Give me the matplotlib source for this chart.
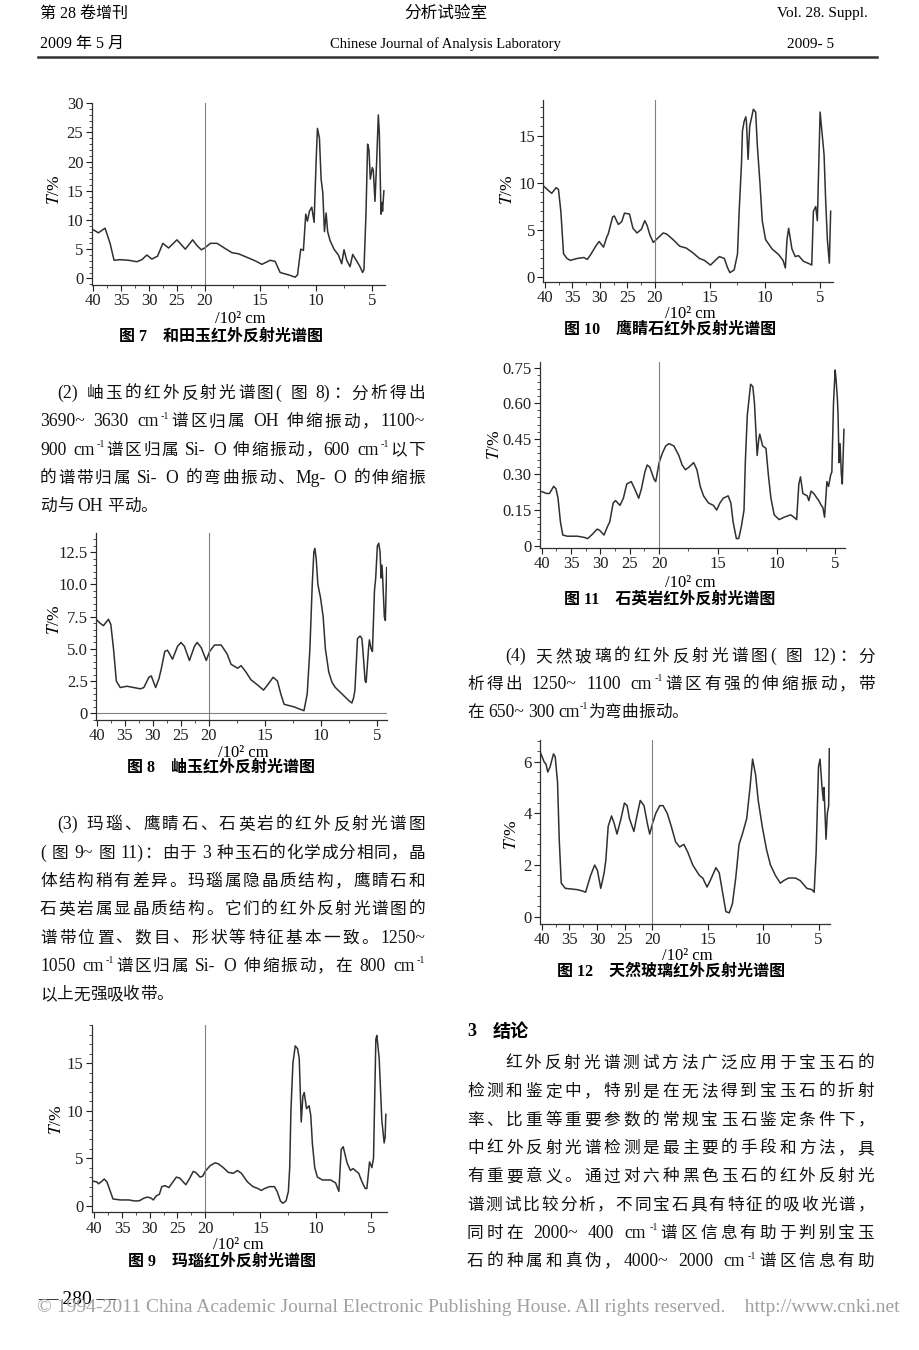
import numpy as np
import matplotlib
matplotlib.use('Agg')
import matplotlib.pyplot as plt
from matplotlib.lines import Line2D
from matplotlib.ticker import AutoMinorLocator, FixedLocator

plt.rcParams['font.family'] = ['Liberation Serif', 'Noto Sans CJK SC']
plt.rcParams['mathtext.fontset'] = 'stix'

W, H = 920, 1350

# wavenumber axis (10^2 cm^-1)
x_ticks = [40, 35, 30, 25, 20, 15, 10, 5]

# Fig 7 和田玉
w7 = [40.3, 39.1, 37.9, 37.0, 36.28, 35.2, 33.7, 32.19, 31.29, 30.39, 29.49, 28.47, 27.51,
      26.49, 24.98, 23.48, 22.16, 21.38, 20.6, 20.0, 19.49, 18.89, 18.15, 17.55, 16.95, 16.2,
      15.46, 14.86, 14.11, 13.67, 13.22, 12.47, 11.87, 11.66, 11.37, 11.13, 10.92, 10.77,
      10.59, 10.38, 10.17, 9.99, 9.87, 9.69, 9.54, 9.39, 9.24, 9.09, 8.95, 8.74, 8.38, 7.99,
      7.69, 7.48, 7.24, 6.94, 6.7, 6.35, 6.05, 5.81, 5.69, 5.51, 5.36, 5.24, 5.12, 4.94, 4.85,
      4.7, 4.55, 4.4, 4.31, 4.16, 4.07, 4.02, 3.9]
t7 = [8.5, 7.8, 8.6, 6.0, 3.1, 3.2, 3.1, 2.85, 3.2, 4.0, 3.3, 3.8, 6.0,
      5.2, 6.6, 5.0, 6.6, 5.6, 4.9, 5.2, 6.0, 6.0, 5.1, 4.4, 4.2, 3.6,
      3.0, 2.4, 3.1, 2.9, 1.0, 0.6, 0.2, 0.6, 5.0, 4.8, 11.0, 9.8,
      11.5, 12.2, 9.6, 20.0, 25.7, 24.0, 17.0, 14.7, 8.0, 11.2, 8.0, 6.5, 5.0, 4.0,
      2.5, 4.9, 3.1, 2.0, 4.1, 3.0, 2.0, 1.0, 1.5, 11.0, 23.0, 22.0, 17.0, 19.0, 18.5,
      13.2, 20.0, 28.0, 25.0, 11.0, 13.0, 11.5, 15.0]

# Fig 8 岫玉
w8 = [40.12, 39.4, 38.8, 37.9, 37.48, 37.0, 36.5, 35.8, 34.6, 33.4, 32.2, 31.6, 30.7, 30.27,
      29.5, 28.9, 28.47, 27.87, 27.39, 26.49, 25.59, 24.98, 24.38, 23.48, 22.58, 22.1, 21.38,
      20.48, 19.94, 19.5, 18.91, 18.38, 18.03, 17.44, 17.14, 16.7, 16.26, 15.67, 15.14, 14.78,
      14.28, 13.9, 13.6, 13.31, 12.43, 11.84, 11.54, 11.25, 11.01, 10.8, 10.66, 10.57, 10.45,
      10.3, 10.07, 9.83, 9.63, 9.33, 9.04, 8.74, 8.15, 7.56, 7.27, 7.12, 7.0, 6.77, 6.54, 6.38,
      6.3, 6.09, 6.0, 5.79, 5.71, 5.56, 5.44, 5.26, 5.15, 5.0, 4.88, 4.76, 4.67, 4.59, 4.53,
      4.38, 4.29, 4.17]
t8 = [7.3, 7.0, 6.8, 7.3, 6.9, 5.0, 2.5, 2.0, 2.1, 2.0, 1.9, 2.0, 2.8, 2.9,
      2.0, 2.7, 3.5, 4.8, 4.9, 4.2, 5.2, 5.5, 5.2, 4.1, 5.2, 5.5, 5.1,
      4.1, 4.8, 5.3, 5.3, 4.6, 3.8, 3.5, 3.7, 3.2, 2.6, 2.2, 1.8, 2.2,
      2.8, 2.5, 1.5, 0.7, 0.5, 0.3, 0.2, 1.5, 5.0, 10.0, 12.5, 12.8, 12.0,
      10.0, 9.0, 7.5, 5.0, 3.2, 2.4, 2.0, 1.5, 1.0, 0.8, 1.2, 1.8, 5.8, 6.0, 5.8,
      5.0, 2.5, 2.4, 5.0, 5.7, 5.0, 4.8, 9.5, 10.5, 13.0, 13.2, 12.5, 10.5, 11.5, 10.5,
      7.5, 7.2, 11.3]

# Fig 9 玛瑙
w9 = [40.49, 39.57, 39.27, 38.78, 38.23, 37.74, 37.13, 36.64, 35.29, 33.76, 32.84, 31.93,
      31.01, 30.4, 29.79, 29.36, 28.87, 28.26, 27.83, 27.22, 26.54, 25.81, 25.2, 24.59, 23.49,
      22.87, 22.14, 21.71, 20.92, 20.43, 20.0, 19.55, 19.11, 18.81, 18.36, 17.91, 17.46, 17.08,
      16.72, 16.18, 15.68, 15.23, 14.93, 14.63, 14.18, 13.74, 13.5, 13.2, 12.99, 12.69, 12.48,
      12.36, 12.25, 12.07, 11.86, 11.65, 11.5, 11.32, 11.17, 11.05, 10.84, 10.61, 10.46, 10.31,
      10.1, 9.86, 9.41, 8.67, 8.22, 7.92, 7.71, 7.53, 7.18, 6.88, 6.64, 6.13, 5.83, 5.54, 5.39,
      5.15, 4.94, 4.79, 4.58, 4.49, 4.28, 4.04, 3.83, 3.74, 3.68]
t9 = [2.6, 2.5, 2.3, 2.5, 2.8, 2.5, 1.5, 0.7, 0.6, 0.6, 0.5, 0.5,
      0.8, 0.9, 0.8, 0.6, 1.0, 1.2, 2.0, 2.1, 1.9, 2.5, 3.0, 2.9, 2.2,
      2.8, 3.6, 3.5, 3.0, 3.1, 3.6, 4.2, 4.5, 4.4, 4.0, 3.5, 3.4, 3.7,
      3.4, 2.5, 2.0, 1.8, 1.6, 1.8, 2.0, 2.0, 1.5, 0.5, 0.25, 0.5, 1.5,
      4.0, 10.0, 15.0, 16.8, 16.5, 15.5, 8.8, 11.5, 11.9, 10.2, 10.5, 9.5, 6.5,
      4.0, 3.0, 2.7, 2.7, 2.4, 1.5, 5.9, 6.2, 4.5, 3.7, 3.9, 3.4, 2.5, 1.8, 1.8,
      4.6, 4.0, 5.0, 17.5, 17.9, 15.5, 9.0, 6.6, 7.2, 9.6]

# Fig 10 鹰睛石
w10 = [40.31, 39.38, 38.77, 37.97, 37.54, 37.11, 36.62, 36.0, 35.38, 34.15, 32.92, 32.31,
       31.69, 30.77, 30.15, 29.35, 28.74, 28.49, 27.69, 27.38, 26.65, 26.03, 25.54, 24.62,
       24.0, 23.26, 22.46, 21.85, 21.42, 20.92, 20.31, 19.7, 19.25, 18.95, 18.35, 17.75,
       17.15, 16.55, 15.95, 15.5, 14.95, 14.6, 14.14, 13.69, 13.39, 13.18, 12.79, 12.49,
       12.34, 12.13, 12.04, 11.89, 11.74, 11.68, 11.53, 11.38, 11.05, 10.84, 10.69, 10.45,
       10.24, 9.94, 9.34, 8.74, 8.35, 8.14, 7.99, 7.84, 7.54, 7.24, 6.94, 6.49, 5.89, 5.74,
       5.59, 5.38, 5.23, 4.98, 4.86, 4.62, 4.47, 4.32, 4.14, 4.02]
t10 = [9.7, 9.2, 8.9, 9.5, 9.3, 7.0, 2.5, 2.0, 1.8, 2.0, 2.1, 1.9,
       2.4, 3.3, 3.8, 3.2, 4.3, 4.6, 6.4, 6.5, 5.6, 5.9, 6.8, 6.7,
       5.2, 4.7, 5.1, 6.0, 5.5, 4.5, 3.7, 4.2, 4.7, 4.6, 4.0, 3.3,
       3.1, 2.6, 2.0, 1.8, 1.3, 1.7, 2.2, 2.0, 1.0, 0.5, 0.8, 2.5,
       7.0, 12.0, 15.5, 16.5, 17.0, 16.5, 12.5, 16.0, 17.8, 17.5, 14.0, 10.0,
       6.0, 4.0, 3.0, 2.4, 1.8, 1.0, 4.0, 5.2, 3.0, 2.2, 2.3, 1.7, 1.4, 1.3,
       7.0, 7.5, 6.0, 17.5, 16.0, 13.0, 8.0, 4.0, 1.5, 7.0]

# Fig 11 石英岩
w11 = [40.29, 39.13, 38.67, 37.97, 37.57, 37.22, 36.81, 36.41, 35.65, 33.91, 32.75, 32.17,
       31.3, 30.55, 30.14, 29.39, 28.81, 28.41, 27.83, 27.42, 26.67, 26.09, 25.51, 24.75,
       24.17, 23.48, 23.01, 22.43, 22.03, 21.57, 20.87, 20.58, 20.0, 19.72, 19.44, 19.16,
       18.74, 18.32, 18.04, 17.76, 17.48, 17.06, 16.78, 16.5, 16.22, 15.8, 15.38, 15.1, 14.82,
       14.54, 14.12, 13.89, 13.7, 13.42, 13.22, 13.0, 12.77, 12.66, 12.49, 12.21, 12.02,
       11.88, 11.65, 11.51, 11.43, 11.18, 10.9, 10.7, 10.48, 10.2, 9.78, 9.36, 8.8, 8.52,
       8.29, 8.1, 7.96, 7.76, 7.39, 7.25, 7.06, 6.83, 6.41, 6.19, 6.05, 5.91, 5.71, 5.57,
       5.38, 5.29, 5.15, 5.01, 4.93, 4.82, 4.76, 4.68, 4.59, 4.48, 4.4, 4.26]
t11 = [0.23, 0.22, 0.22, 0.25, 0.24, 0.20, 0.10, 0.045, 0.04, 0.04, 0.035, 0.03,
       0.05, 0.07, 0.065, 0.045, 0.08, 0.10, 0.18, 0.19, 0.17, 0.20, 0.26, 0.27,
       0.24, 0.20, 0.24, 0.31, 0.34, 0.33, 0.28, 0.27, 0.35, 0.39, 0.42, 0.43,
       0.42, 0.38, 0.34, 0.32, 0.33, 0.35, 0.32, 0.25, 0.21, 0.18, 0.17, 0.15, 0.18,
       0.20, 0.21, 0.18, 0.10, 0.03, 0.03, 0.08, 0.15, 0.35, 0.55, 0.68, 0.67,
       0.60, 0.38, 0.45, 0.47, 0.42, 0.41, 0.30, 0.20, 0.13, 0.11, 0.12, 0.13, 0.12,
       0.11, 0.26, 0.29, 0.22, 0.21, 0.19, 0.23, 0.22, 0.19, 0.17, 0.16, 0.12, 0.27, 0.25,
       0.30, 0.31, 0.60, 0.74, 0.70, 0.62, 0.55, 0.35, 0.43, 0.30, 0.26, 0.49]

# Fig 12 天然玻璃
w12 = [40.3, 39.57, 39.21, 38.9, 38.48, 37.87, 37.56, 37.13, 36.83, 36.46, 35.73, 33.6,
       32.68, 32.07, 31.16, 30.43, 29.94, 29.33, 28.72, 28.41, 27.99, 27.38, 26.89, 26.4,
       25.67, 25.06, 24.57, 24.15, 23.35, 22.8, 22.2, 21.52, 20.91, 20.49, 20.0, 19.7, 19.34,
       19.04, 18.66, 18.3, 17.91, 17.55, 17.16, 16.81, 16.36, 15.76, 15.46, 15.07, 14.78,
       14.27, 13.97, 13.61, 13.37, 13.07, 12.78, 12.48, 12.18, 11.88, 11.49, 11.19, 10.96,
       10.69, 10.45, 10.09, 9.7, 9.34, 8.9, 8.45, 8.15, 7.7, 7.1, 6.66, 6.06, 5.61, 5.4, 5.22,
       5.01, 4.87, 4.69, 4.57, 4.51, 4.33, 4.21, 4.09, 4.03]
t12 = [6.4, 6.0, 5.9, 5.6, 5.8, 6.3, 6.2, 5.2, 3.0, 1.3, 1.1, 1.05,
       1.0, 0.95, 1.6, 2.0, 1.8, 1.1, 1.7, 2.2, 3.5, 3.9, 3.6, 3.2,
       3.8, 4.4, 4.3, 3.8, 3.3, 3.9, 4.5, 4.3, 3.6, 3.2, 3.6, 4.0, 4.3,
       4.3, 4.0, 3.5, 2.9, 2.7, 2.8, 2.5, 2.0, 1.6, 1.5, 1.15, 1.4,
       1.9, 1.7, 0.8, 0.2, 0.15, 0.5, 1.5, 2.8, 3.2, 3.8, 5.0, 6.1,
       5.5, 4.5, 3.5, 2.6, 2.0, 1.6, 1.3, 1.4, 1.5, 1.5, 1.4, 1.1, 1.05, 0.95, 2.5,
       5.8, 6.1, 5.0, 4.5, 5.0, 3.0, 4.0, 4.3, 6.5]

# y ticks per figure
yt7, yl7 = [0, 5, 10, 15, 20, 25, 30], ['0', '5', '10', '15', '20', '25', '30']
yt8, yl8 = [0, 2.5, 5, 7.5, 10, 12.5], ['0', '2.5', '5.0', '7.5', '10.0', '12.5']
yt9, yl9 = [0, 5, 10, 15], ['0', '5', '10', '15']
yt10, yl10 = [0, 5, 10, 15], ['0', '5', '10', '15']
yt11, yl11 = [0, 0.15, 0.30, 0.45, 0.60, 0.75], ['0', '0.15', '0.30', '0.45', '0.60', '0.75']
yt12, yl12 = [0, 2, 4, 6], ['0', '2', '4', '6']

captions = ['图 7    和田玉红外反射光谱图', '图 8    岫玉红外反射光谱图', '图 9    玛瑙红外反射光谱图',
            '图 10    鹰睛石红外反射光谱图', '图 11    石英岩红外反射光谱图', '图 12    天然玻璃红外反射光谱图']

p2 = ['(2) 岫玉的红外反射光谱图( 图 8)：分析得出',
      '3690~ 3630 cm⁻¹谱区归属 OH 伸缩振动，1100~',
      '900 cm⁻¹谱区归属 Si- O 伸缩振动，600 cm⁻¹以下',
      '的谱带归属 Si- O 的弯曲振动、Mg- O 的伸缩振',
      '动与 OH 平动。']
p3 = ['(3) 玛瑙、鹰睛石、石英岩的红外反射光谱图',
      '( 图 9~ 图 11)：由于 3 种玉石的化学成分相同，晶',
      '体结构稍有差异。玛瑙属隐晶质结构，鹰睛石和',
      '石英岩属显晶质结构。它们的红外反射光谱图的',
      '谱带位置、数目、形状等特征基本一致。1250~',
      '1050 cm⁻¹谱区归属 Si- O 伸缩振动，在 800 cm⁻¹',
      '以上无强吸收带。']
p4 = ['(4) 天然玻璃的红外反射光谱图( 图 12)：分',
      '析得出 1250~ 1100 cm⁻¹谱区有强的伸缩振动，带',
      '在 650~ 300 cm⁻¹为弯曲振动。']
p5 = ['红外反射光谱测试方法广泛应用于宝玉石的',
      '检测和鉴定中，特别是在无法得到宝玉石的折射',
      '率、比重等重要参数的常规宝玉石鉴定条件下，',
      '中红外反射光谱检测是最主要的手段和方法，具',
      '有重要意义。通过对六种黑色玉石的红外反射光',
      '谱测试比较分析，不同宝石具有特征的吸收光谱，',
      '同时在 2000~ 400 cm⁻¹谱区信息有助于判别宝玉',
      '石的种属和真伪，4000~ 2000 cm⁻¹谱区信息有助']


# spectra use 2x expanded scale below 2000 cm-1
def fwd(x):
    x = np.asarray(x, dtype=float)
    return np.where(x > 20, 20 + (x - 20) / 2, x)


def inv(u):
    u = np.asarray(u, dtype=float)
    return np.where(u > 20, 20 + (u - 20) * 2, u)


fig = plt.figure(figsize=(W / 100, H / 100), dpi=100)
R = fig.canvas.get_renderer()


def fx(x):
    return x / W


def fy(y):
    return 1 - y / H


def spectrum(box, w, t, xlim, ylim, yt, yl, zero=False):
    x0, y0, x1, y1 = box
    ax = fig.add_axes([fx(x0), fy(y1), (x1 - x0) / W, (y1 - y0) / H])
    ax.set_facecolor('none')
    ax.set_xscale('function', functions=(fwd, inv))
    ax.plot(w, t, color='#303030', lw=1.1)
    ax.axvline(20, color='#808080', lw=0.8)
    if zero:
        ax.axhline(0, color='#808080', lw=0.8)
    ax.set_xlim(*xlim)
    ax.set_ylim(*ylim)
    ax.set_xticks(x_ticks)
    ax.set_xticklabels([str(v) for v in x_ticks])
    ax.xaxis.set_minor_locator(FixedLocator([37.5, 32.5, 27.5, 22.5, 17.5, 12.5, 7.5]))
    ax.set_yticks(yt)
    ax.set_yticklabels(yl)
    ax.yaxis.set_minor_locator(AutoMinorLocator(5))
    for s in ('top', 'right'):
        ax.spines[s].set_visible(False)
    for s in ('left', 'bottom'):
        ax.spines[s].set_color('#303030')
        ax.spines[s].set_linewidth(0.9)
    ax.tick_params(which='major', direction='out', length=4, width=0.8,
                   labelsize=12, pad=2, colors='#202020')
    ax.tick_params(which='minor', direction='out', length=2, width=0.6, colors='#303030')
    return ax


spectrum((91.7, 103.3, 385, 285), w7, t7, (40.3, 3.8), (-1.14, 29.83), yt7, yl7)
spectrum((96, 533.3, 386.7, 720), w8, t8, (40.12, 4.17), (-0.52, 13.97), yt8, yl8, zero=True)
spectrum((91.7, 1025, 386.7, 1212.3), w9, t9, (40.49, 3.6), (-0.70, 19.0), yt9, yl9)
spectrum((543.3, 100, 833.3, 281.7), w10, t10, (40.3, 3.78), (-0.46, 18.78), yt10, yl10)
spectrum((540, 361.7, 845, 547.7), w11, t11, (40.29, 4.17), (-0.0084, 0.775), yt11, yl11)
spectrum((540, 740, 830, 924), w12, t12, (40.3, 3.97), (-0.28, 6.84), yt12, yl12)

# axis titles and captions
for x, y in [(240, 319), (243, 753), (238, 1245), (690, 314), (690, 583), (687, 956)]:
    fig.text(fx(x), fy(y), '/10² cm', ha='center', va='center', fontsize=12)
for x, y in [(55, 190), (55, 620), (57, 1120), (508, 190), (495, 445), (512, 835)]:
    fig.text(fx(x), fy(y), '$T$/%', ha='center', va='center', fontsize=12.5, rotation=90)
for cap, (x, y) in zip(captions, [(221, 337), (221, 768), (222, 1262),
                                  (670, 330), (670, 600), (671, 972)]):
    fig.text(fx(x), fy(y), cap, ha='center', va='center', fontsize=11.5, weight='bold')

# body text, justified line by line
SUP = {'⁻': '-', '¹': '1'}


def tokens(s):
    out, buf, kind = [], '', None
    for ch in s:
        if ch in SUP:
            k = 'sup'
        elif ch.isascii() and ch != ' ':
            k = 'lat'
        else:
            k = 'one'
        if k == 'one':
            if buf:
                out.append((buf, kind))
            buf, kind = '', None
            out.append((ch, 'one'))
        else:
            if buf and kind != k:
                out.append((buf, kind))
                buf = ''
            buf += SUP.get(ch, ch)
            kind = k
    if buf:
        out.append((buf, kind))
    return out


def text_line(x0, yc, s, x1=None, size=12):
    em = size * 100 / 72
    items, total = [], 0
    for txt, kind in tokens(s):
        if txt == ' ':
            items.append((None, em * 0.25, kind))
        else:
            fs = {'sup': size * 0.6, 'lat': size * 1.06}.get(kind, size)
            t = fig.text(0, 0, txt, fontsize=fs, ha='left', va='baseline', color='#111111')
            items.append((t, t.get_window_extent(R).width, kind))
        total += items[-1][1]
    gap = 0
    if x1 is not None and len(items) > 1:
        gap = (x1 - x0 - total) / (len(items) - 1)
    base = yc + 0.38 * em
    x = x0
    for t, wpx, kind in items:
        if t is not None:
            dy = 0.45 * em if kind == 'sup' else 0
            t.set_position((fx(x), fy(base - dy)))
        x += wpx + gap


def paragraph(lines, x_first, x_left, x_right, y0, step, last_open=True):
    for i, s in enumerate(lines):
        xs = x_first if i == 0 else x_left
        end = None if (last_open and i == len(lines) - 1) else x_right
        text_line(xs, y0 + i * step, s, end)


paragraph(p2, 57, 40, 425, 392, 28.1)
paragraph(p3, 57, 40, 425, 823, 28.3)
paragraph(p4, 505, 467, 875, 655, 27.6)
paragraph(p5, 505, 467, 874, 1061.7, 28.3, last_open=False)
fig.text(fx(467), fy(1032), '3', ha='left', va='center', fontsize=13, weight='bold')
fig.text(fx(493), fy(1032), '结论', ha='left', va='center', fontsize=13, weight='bold')

# running head
fig.text(fx(40), fy(14), '第 28 卷增刊', ha='left', va='center', fontsize=11.5)
fig.text(fx(40), fy(44), '2009 年 5 月', ha='left', va='center', fontsize=11.5)
fig.text(fx(446), fy(14), '分析试验室', ha='center', va='center', fontsize=12)
fig.text(fx(445), fy(44), 'Chinese Journal of Analysis Laboratory', ha='center', va='center',
         fontsize=10.5)
fig.text(fx(822), fy(14), 'Vol. 28. Suppl.', ha='center', va='center', fontsize=11)
fig.text(fx(811), fy(44), '2009- 5', ha='center', va='center', fontsize=11)
fig.add_artist(Line2D([fx(38), fx(877)], [fy(57), fy(57)], color='#333333', lw=1.8))

# footer
fig.text(fx(38), fy(1299), '— 280 —', ha='left', va='center', fontsize=14)
fig.text(fx(37), fy(1307), '© 1994-2011 China Academic Journal Electronic Publishing House. '
         'All rights reserved.    http://www.cnki.net', ha='left', va='center',
         fontsize=14, color='#a0a0a0')

fig.savefig('out.png', dpi=100)
